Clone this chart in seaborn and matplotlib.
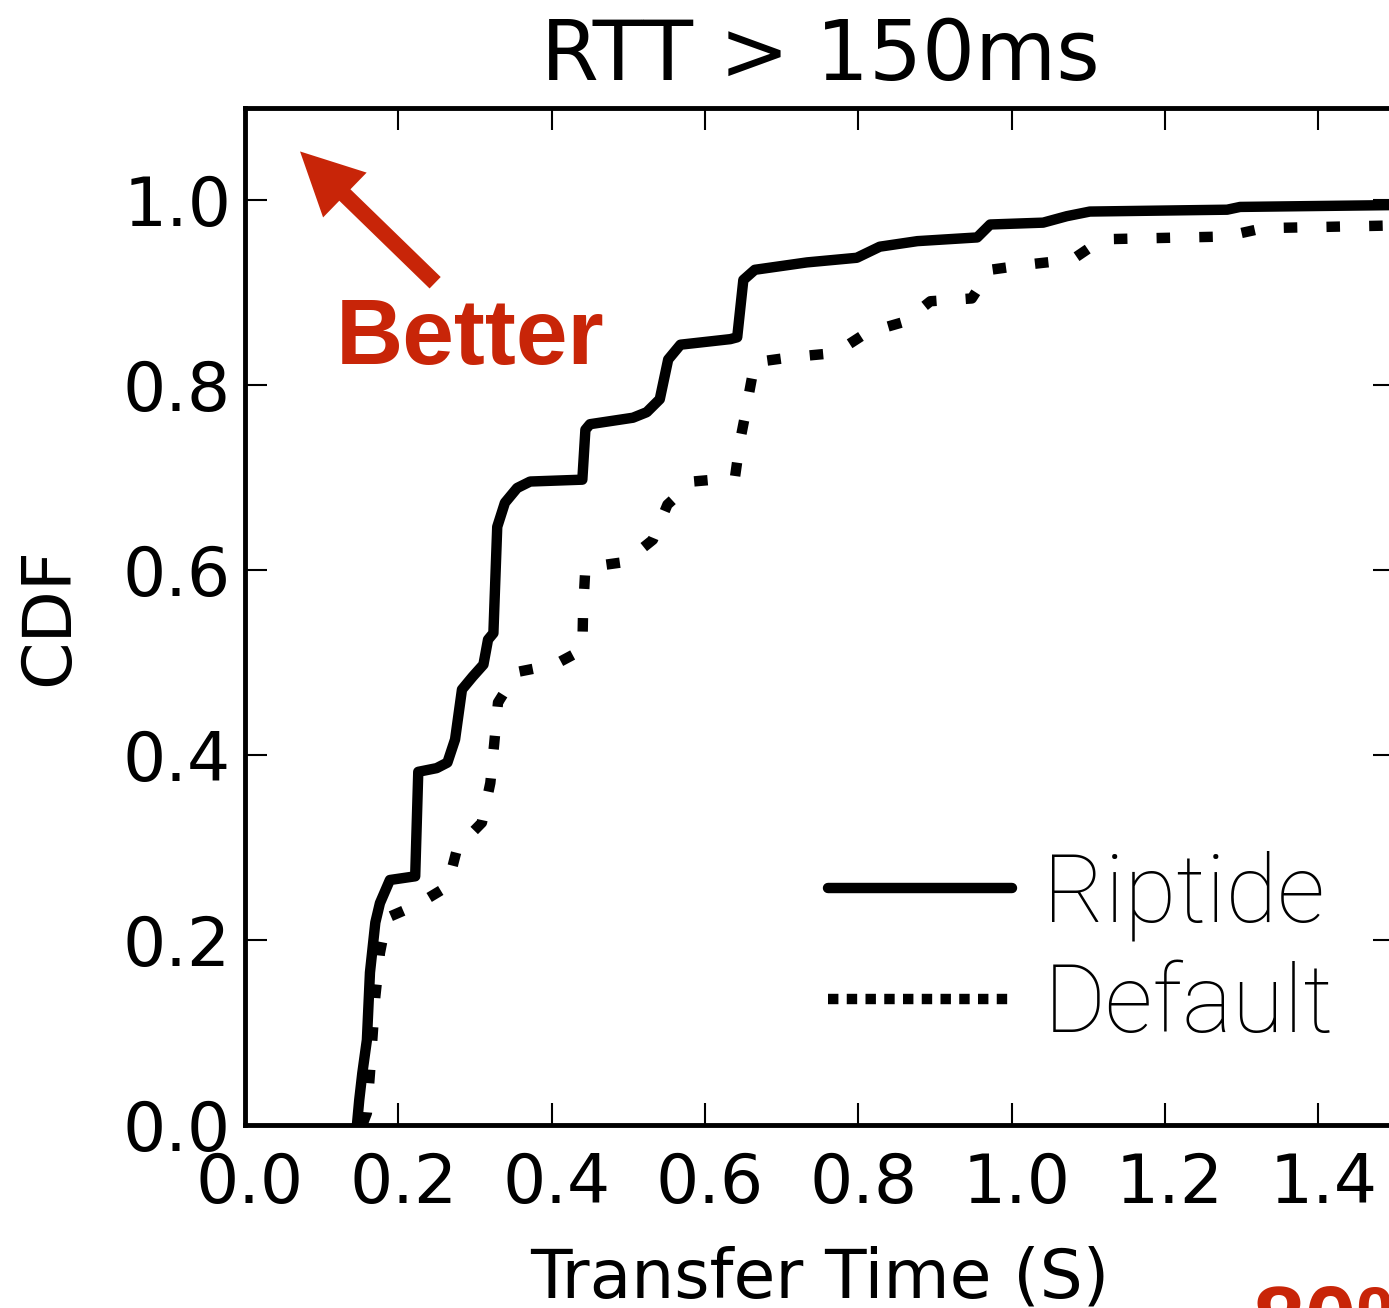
import numpy as np
import pandas as pd
import matplotlib
matplotlib.use('Agg')
import matplotlib.pyplot as plt
import matplotlib.transforms as mtransforms
import seaborn as sns
from matplotlib.lines import Line2D

# CDF of transfer time
riptide_x = [0.146, 0.149, 0.153, 0.159, 0.163, 0.170, 0.176, 0.189, 0.222, 0.226,
             0.250, 0.264, 0.274, 0.283, 0.297, 0.311, 0.317, 0.324, 0.329, 0.339,
             0.355, 0.372, 0.440, 0.444, 0.450, 0.506, 0.524, 0.541, 0.552, 0.568,
             0.633, 0.642, 0.650, 0.665, 0.733, 0.798, 0.828, 0.877, 0.955, 0.972,
             1.041, 1.072, 1.102, 1.281, 1.298, 1.500]
riptide_y = [0.000, 0.027, 0.056, 0.092, 0.165, 0.219, 0.240, 0.265, 0.269, 0.382,
             0.386, 0.392, 0.417, 0.471, 0.485, 0.498, 0.525, 0.532, 0.647, 0.673,
             0.689, 0.696, 0.698, 0.752, 0.758, 0.765, 0.771, 0.785, 0.828, 0.844,
             0.850, 0.852, 0.914, 0.925, 0.933, 0.938, 0.950, 0.956, 0.960, 0.974,
             0.976, 0.983, 0.988, 0.990, 0.993, 0.995]

default_x = [0.153, 0.159, 0.163, 0.170, 0.176, 0.185, 0.224, 0.264, 0.277, 0.309,
             0.320, 0.325, 0.330, 0.355, 0.404, 0.440, 0.441, 0.444, 0.496, 0.532,
             0.551, 0.584, 0.639, 0.646, 0.655, 0.656, 0.665, 0.718, 0.770, 0.811,
             0.861, 0.894, 0.948, 0.972, 1.024, 1.079, 1.118, 1.279, 1.328, 1.500]
default_y = [0.000, 0.013, 0.056, 0.139, 0.186, 0.224, 0.238, 0.258, 0.300, 0.327,
             0.370, 0.412, 0.457, 0.490, 0.498, 0.514, 0.557, 0.603, 0.609, 0.633,
             0.671, 0.696, 0.700, 0.741, 0.779, 0.785, 0.825, 0.831, 0.835, 0.857,
             0.869, 0.891, 0.894, 0.925, 0.931, 0.936, 0.958, 0.961, 0.970, 0.973]

RED = '#C82508'

sns.set_style('white')
plt.rcParams['font.family'] = ['DejaVu Sans']
plt.rcParams['text.color'] = 'black'
plt.rcParams['axes.labelcolor'] = 'black'

fig = plt.figure(figsize=(13.89, 13.08), dpi=100)
# axes run off the right edge of the picture, as in the reference
ax = fig.add_axes([245/1389, 183/1308, 1150/1389, 1017/1308])

sns.lineplot(x=riptide_x, y=riptide_y, ax=ax, color='black', lw=7.5,
             estimator=None, sort=False, solid_joinstyle='round')
sns.lineplot(x=default_x, y=default_y, ax=ax, color='black', lw=7.5,
             estimator=None, sort=False)
ax.lines[1].set_dashes((1.3, 2.8))

ax.set_xlim(0, 1.5)
ax.set_ylim(0, 1.1)
ax.set_xticks(np.arange(0, 1.5, 0.2))
ax.set_yticks(np.arange(0, 1.01, 0.2))
ax.xaxis.set_major_formatter(matplotlib.ticker.FormatStrFormatter('%.1f'))
ax.yaxis.set_major_formatter(matplotlib.ticker.FormatStrFormatter('%.1f'))
ax.tick_params(direction='in', length=16, width=1.5, top=True, right=True,
               bottom=True, left=True, labelsize=49, colors='black')
ax.tick_params(axis='x', pad=19)
ax.tick_params(axis='y', pad=10)
for s in ax.spines.values():
    s.set_linewidth(3.5)
    s.set_color('black')

# x tick labels sit a few pixels right of their ticks in the reference
shift = mtransforms.ScaledTranslation(5/100, 0, fig.dpi_scale_trans)
for lbl in ax.get_xticklabels():
    lbl.set_transform(lbl.get_transform() + shift)

ax.set_title('RTT > 150ms', fontsize=60, pad=20, color='black')
ax.set_xlabel('Transfer Time (S)', fontsize=49, labelpad=20)
ax.set_ylabel('CDF', fontsize=49, labelpad=29)

handles = [Line2D([], [], color='black', lw=7.5),
           Line2D([], [], color='black', lw=7.5, dashes=(1, 0.8))]
leg = ax.legend(handles, ['Riptide', 'Default'], loc='center left',
                bbox_to_anchor=(0.507, 0.171), frameon=False, borderpad=0,
                borderaxespad=0, handlelength=1.95, handletextpad=0.33,
                labelspacing=0.22, prop={'family': 'Roboto', 'weight': 'light', 'size': 68})
for t in leg.get_texts():
    t.set_color('black')

ax.annotate('', xy=(0.0718, 1.053), xytext=(0.248, 0.911),
            arrowprops=dict(facecolor=RED, edgecolor='none', width=11.5,
                            headwidth=45, headlength=45, shrink=0))
ax.text(0.1185, 0.823, 'Better', color=RED, fontsize=67, fontweight='bold',
        family='Liberation Sans', va='baseline', ha='left')

fig.text(1253/1389, -0.033, '80%', color=RED, fontsize=67, fontweight='bold',
         family='Liberation Sans', va='baseline', ha='left')

fig.savefig('out.png', dpi=100)
